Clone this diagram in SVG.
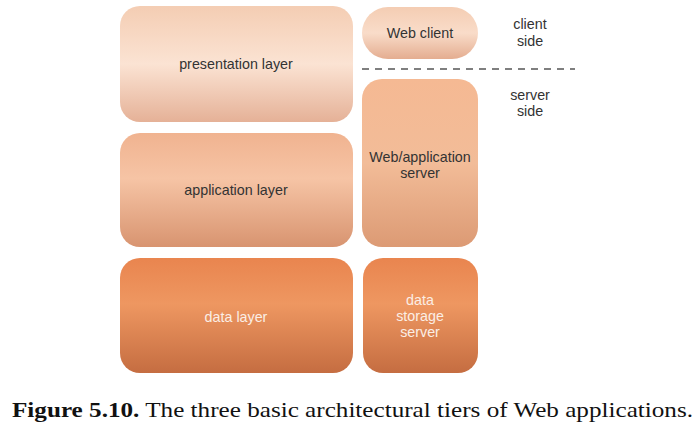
<svg xmlns="http://www.w3.org/2000/svg" width="700" height="432" viewBox="0 0 700 432">
<defs>
<linearGradient id="gP" x1="0" y1="0" x2="0" y2="1">
<stop offset="0" stop-color="#f4cdb3"/><stop offset="0.5" stop-color="#fbe3d3"/><stop offset="1" stop-color="#e5b197"/>
</linearGradient>
<linearGradient id="gA" x1="0" y1="0" x2="0" y2="1">
<stop offset="0" stop-color="#f0b390"/><stop offset="0.4" stop-color="#f6c4a5"/><stop offset="1" stop-color="#d89470"/>
</linearGradient>
<linearGradient id="gS" x1="0" y1="0" x2="0" y2="1">
<stop offset="0" stop-color="#f5b993"/><stop offset="0.5" stop-color="#f2bc98"/><stop offset="1" stop-color="#dc9a74"/>
</linearGradient>
<linearGradient id="gD" x1="0" y1="0" x2="0" y2="1">
<stop offset="0" stop-color="#e9854f"/><stop offset="0.4" stop-color="#ee9761"/><stop offset="1" stop-color="#c56d41"/>
</linearGradient>
<linearGradient id="gW" x1="0" y1="0" x2="0" y2="1">
<stop offset="0" stop-color="#f4cdb3"/><stop offset="0.5" stop-color="#f9dcc9"/><stop offset="1" stop-color="#e4ad90"/>
</linearGradient>
<style>
.t{font-family:"Liberation Sans",Arial,sans-serif;font-size:14.3px;fill:#333;text-anchor:middle}
.w{fill:#fbeee5}
.cap{font-family:"Liberation Serif","Times New Roman",serif;font-size:22px;fill:#111}
</style>
</defs>
<g id="presentation-layer">
<rect x="120" y="6" width="233" height="116" rx="20" fill="url(#gP)"/>
<text class="t" x="236" y="69">presentation layer</text>
</g>
<g id="application-layer">
<rect x="120" y="133" width="233" height="114" rx="20" fill="url(#gA)"/>
<text class="t" x="236" y="195">application layer</text>
</g>
<g id="data-layer">
<rect x="120" y="258" width="233" height="115" rx="20" fill="url(#gD)"/>
<text class="t w" x="236" y="322">data layer</text>
</g>
<g id="web-client">
<rect x="362" y="7" width="116" height="52" rx="26" fill="url(#gW)"/>
<text class="t" x="420" y="38">Web client</text>
</g>
<g id="web-app-server">
<rect x="362" y="79" width="116" height="168" rx="20" fill="url(#gS)"/>
<text class="t" x="420" y="162">Web/application</text>
<text class="t" x="420" y="178">server</text>
</g>
<g id="data-storage-server">
<rect x="363" y="258" width="115" height="115" rx="20" fill="url(#gD)"/>
<text class="t w" x="420" y="305">data</text>
<text class="t w" x="420" y="321">storage</text>
<text class="t w" x="420" y="337">server</text>
</g>
<g id="labels">
<text class="t" x="530" y="29">client</text>
<text class="t" x="530" y="46">side</text>
<text class="t" x="530" y="100">server</text>
<text class="t" x="530" y="116">side</text>
</g>
<g id="connectors">
<line x1="362" y1="69" x2="575" y2="69" stroke="#555" stroke-width="1.5" stroke-dasharray="7,6"/>
</g>
<text class="cap" x="12" y="417" textLength="681" lengthAdjust="spacingAndGlyphs"><tspan font-weight="bold">Figure 5.10.</tspan> The three basic architectural tiers of Web applications.</text>
</svg>
